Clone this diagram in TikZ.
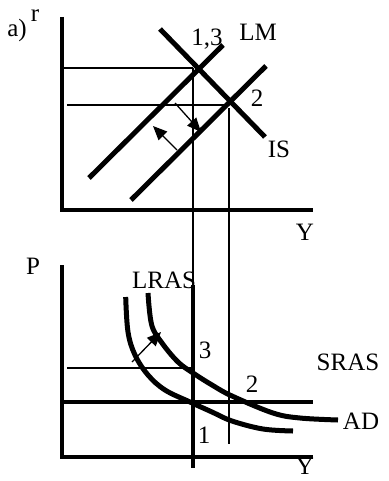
\documentclass[tikz,border=0pt]{standalone}
\usepackage{fontspec}
\setmainfont{Liberation Serif}
\usetikzlibrary{arrows.meta}
\begin{document}
\begin{tikzpicture}[x=1pt,y=-1pt,
  axis/.style={line width=3.6pt},
  curve/.style={line width=5pt},
  thin/.style={line width=1.3pt},
  shiftarrow/.style={line width=1.3pt,-{Triangle[length=14pt,width=12pt]}},
  lbl/.style={inner sep=0pt,font=\fontsize{25}{25}\selectfont}]
\useasboundingbox (0,0) rectangle (388,481);
% ---- top panel coordinates
\coordinate (tyTop) at (62,17);
\coordinate (tO) at (62,210);
\coordinate (txEnd) at (313,210);
\coordinate (lmAa) at (89,178);
\coordinate (lmAb) at (223,45);
\coordinate (lmBa) at (131,200);
\coordinate (lmBb) at (266,66);
\coordinate (isa) at (160,29);
\coordinate (isb) at (265,137);
\coordinate (e13) at (193,68);
\coordinate (e2) at (229,105);
\coordinate (h1s) at (62,68);
\coordinate (h2s) at (67,105);
\coordinate (v1e) at (193,468);
\coordinate (v2s) at (229,108);
\coordinate (v2e) at (229,444);
\coordinate (ar1a) at (175,103);
\coordinate (ar1b) at (201,132);
\coordinate (ar2a) at (177,150);
\coordinate (ar2b) at (153,126);
% ---- bottom panel coordinates
\coordinate (byTop) at (62,265);
\coordinate (bO) at (62,457);
\coordinate (bxEnd) at (313,457);
\coordinate (srasA) at (62,402);
\coordinate (srasB) at (313,402);
\coordinate (lrasA) at (193,285);
\coordinate (h3s) at (67,368);
\coordinate (h3e) at (193,368);
\coordinate (ar3a) at (132,362);
\coordinate (ar3b) at (161,332);
% axes
\draw[axis] (tyTop) -- (tO) -- (txEnd);
\draw[axis] (byTop) -- (bO) -- (bxEnd);
% thin guide lines
\draw[thin] (h1s) -- (e13);
\draw[thin] (h2s) -- (e2);
\draw[thin] (e13) -- (v1e);
\draw[thin] (v2s) -- (v2e);
\draw[thin] (h3s) -- (h3e);
% IS-LM
\draw[curve] (lmAa) -- (lmAb);
\draw[curve] (lmBa) -- (lmBb);
\draw[curve] (isa) -- (isb);
% shift arrows
\draw[shiftarrow] (ar1a) -- (ar1b);
\draw[shiftarrow] (ar2a) -- (ar2b);
% AS-AD
\draw[axis] (srasA) -- (srasB);
\draw[axis] (lrasA) -- (v1e);
\draw[curve] plot[smooth,tension=0.6] coordinates {(125.7,297) (128,332) (135,355) (148,375) (165,390) (190,402) (212,412) (232,421) (263,429) (293,431)};
\draw[curve] plot[smooth,tension=0.6] coordinates {(148,293) (151.7,325) (162,343) (178,362) (193,373) (212,385) (232,396) (273,413) (300,418) (338,420)};
\draw[shiftarrow] (ar3a) -- (ar3b);
% labels
\node[lbl] (la) at (17,30) {a)};
\node[lbl] (lr) at (35,16) {r};
\node[lbl] (l13) at (207,39) {1,3};
\node[lbl] (lLM) at (258,32) {LM};
\node[lbl] (l2t) at (257,98) {2};
\node[lbl] (lIS) at (279,149) {IS};
\node[lbl] (lYt) at (305,232) {Y};
\node[lbl] (lP) at (33,266) {P};
\node[lbl] (lLRAS) at (164,280) {LRAS};
\node[lbl] (l3) at (205,350) {3};
\node[lbl] (l2b) at (252,384) {2};
\node[lbl] (l1) at (204,435) {1};
\node[lbl] (lSRAS) at (348,362) {SRAS};
\node[lbl] (lAD) at (361,421) {AD};
\node[lbl] (lYb) at (305,466) {Y};
\end{tikzpicture}
\end{document}
